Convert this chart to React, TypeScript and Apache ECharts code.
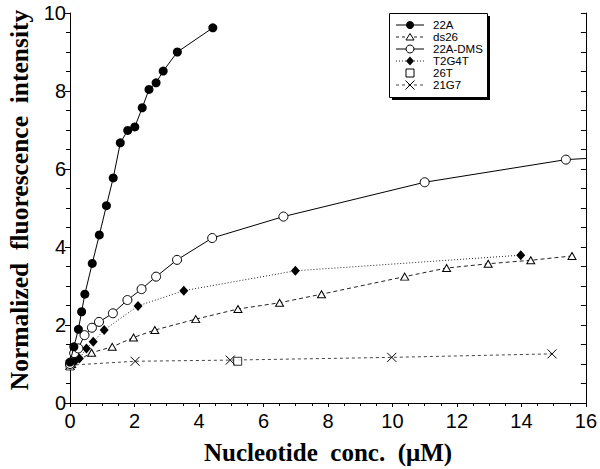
import React, { useEffect, useRef } from "react";
import * as echarts from "echarts";

const xTicks = [0, 2, 4, 6, 8, 10, 12, 14, 16];
const yTicks = [0, 2, 4, 6, 8, 10];

const s22A: number[][] = [
  [0.0, 1.05], [0.12, 1.44], [0.26, 1.89], [0.36, 2.34], [0.46, 2.79], [0.69, 3.58],
  [0.91, 4.31], [1.13, 5.06], [1.34, 5.77], [1.56, 6.67], [1.79, 6.99], [2.01, 7.08],
  [2.24, 7.57], [2.45, 8.04], [2.67, 8.21], [2.89, 8.51], [3.33, 9.0], [4.43, 9.62],
];
const sds26: number[][] = [
  [0.05, 1.0], [0.67, 1.29], [1.31, 1.44], [1.97, 1.68], [2.63, 1.87], [3.9, 2.15],
  [5.21, 2.41], [6.5, 2.57], [7.8, 2.79], [10.38, 3.24], [11.68, 3.46], [12.97, 3.57],
  [14.29, 3.66], [15.57, 3.77],
];
const s22ADMS: number[][] = [
  [0.0, 1.0], [0.13, 1.28], [0.26, 1.4], [0.45, 1.74], [0.68, 1.93], [0.9, 2.08],
  [1.33, 2.3], [1.78, 2.64], [2.22, 2.92], [2.67, 3.24], [3.32, 3.67], [4.41, 4.23],
  [6.62, 4.78], [11.0, 5.66], [15.38, 6.24],
];
const s22ADMSTail: number[] = [16, 6.27];
const sT2G4T: number[][] = [
  [0.0, 1.0], [0.15, 1.07], [0.29, 1.14], [0.51, 1.4], [0.72, 1.57], [1.06, 1.87],
  [2.11, 2.49], [3.53, 2.88], [6.99, 3.39], [13.98, 3.79],
];
const s26T: number[][] = [[0.0, 0.95], [5.2, 1.07]];
const s21G7: number[][] = [[0.0, 0.97], [2.02, 1.07], [4.97, 1.1], [9.98, 1.17], [14.95, 1.26]];

const seriesNames = ["22A", "ds26", "22A-DMS", "T2G4T", "26T", "21G7"];

const CROSS = "path://M0,0L10,10M10,0L0,10";

type Sty = { dash: number[] | null; lineColor: string; showLine: boolean };
const legendStyles: Sty[] = [
  { dash: null, lineColor: "#000", showLine: true },
  { dash: [3, 3], lineColor: "#222", showLine: true },
  { dash: null, lineColor: "#000", showLine: true },
  { dash: [1, 2], lineColor: "#222", showLine: true },
  { dash: null, lineColor: "#000", showLine: false },
  { dash: [3, 3], lineColor: "#444", showLine: true },
];

function legendSymbol(i: number, cx: number, cy: number): any {
  const st = { fill: "#fff", stroke: "#000", lineWidth: 1 };
  switch (i) {
    case 0:
      return { type: "circle", z: 12, shape: { cx, cy, r: 4 }, style: { fill: "#000" } };
    case 1:
      return { type: "polygon", z: 12, shape: { points: [[cx, cy - 3.5], [cx + 4, cy + 3], [cx - 4, cy + 3]] }, style: st };
    case 2:
      return { type: "circle", z: 12, shape: { cx, cy, r: 4 }, style: st };
    case 3:
      return { type: "polygon", z: 12, shape: { points: [[cx, cy - 4.5], [cx + 4, cy], [cx, cy + 4.5], [cx - 4, cy]] }, style: { fill: "#000" } };
    case 4:
      return { type: "rect", z: 12, shape: { x: cx - 4, y: cy - 4, width: 8, height: 8 }, style: st };
    default:
      return {
        type: "group",
        z: 12,
        children: [
          { type: "line", z: 12, shape: { x1: cx - 4.5, y1: cy - 4.5, x2: cx + 4.5, y2: cy + 4.5 }, style: { stroke: "#000", lineWidth: 1 } },
          { type: "line", z: 12, shape: { x1: cx + 4.5, y1: cy - 4.5, x2: cx - 4.5, y2: cy + 4.5 }, style: { stroke: "#000", lineWidth: 1 } },
        ],
      };
  }
}

export default function App() {
  const ref = useRef<HTMLDivElement>(null);
  useEffect(() => {
    if (!ref.current) return;
    const chart = echarts.init(ref.current, undefined, { renderer: "svg" });
    const sans = "Liberation Sans, Arial, sans-serif";
    const serif = "Liberation Serif, Times New Roman, serif";
    const nb = "\u00a0";

    const legendEls: any[] = [
      { type: "rect", z: 10, shape: { x: 392, y: 16, width: 98, height: 84 }, style: { fill: "#000" } },
      { type: "rect", z: 11, shape: { x: 389.5, y: 13.5, width: 98, height: 84 }, style: { fill: "#fff", stroke: "#000", lineWidth: 1 } },
    ];
    seriesNames.forEach((name, i) => {
      const cy = 25 + i * 12;
      const s = legendStyles[i];
      if (s.showLine) {
        legendEls.push({
          type: "line",
          z: 12,
          shape: { x1: 396, y1: cy, x2: 424, y2: cy },
          style: { stroke: s.lineColor, lineWidth: 1, lineDash: s.dash || undefined },
        });
      }
      legendEls.push(legendSymbol(i, 410, cy));
      legendEls.push({
        type: "text",
        z: 12,
        x: 433,
        y: cy,
        style: {
          text: name,
          font: "11.5px " + sans,
          lineHeight: 11,
          fill: "#000",
          textVerticalAlign: "middle",
          textAlign: "left",
        },
      });
    });

    chart.setOption({
      animation: false,
      backgroundColor: "#fff",
      grid: { left: 70, right: 11, top: 13, bottom: 66, containLabel: false },
      xAxis: {
        type: "value",
        min: xTicks[0],
        max: xTicks[xTicks.length - 1],
        interval: 2,
        axisLine: { show: true, lineStyle: { color: "#000", width: 1 } },
        axisTick: { show: true, length: 4, lineStyle: { color: "#000" } },
        minorTick: { show: true, splitNumber: 4, length: 3, lineStyle: { color: "#000" } },
        splitLine: { show: false },
        axisLabel: { fontFamily: sans, fontSize: 20, color: "#000", margin: 8 },
      },
      yAxis: [
        {
          type: "value",
          min: yTicks[0],
          max: yTicks[yTicks.length - 1],
          interval: 2,
          axisLine: { show: true, lineStyle: { color: "#000", width: 1 } },
          axisTick: { show: true, length: 5, lineStyle: { color: "#000" } },
          minorTick: { show: true, splitNumber: 4, length: 4, lineStyle: { color: "#000" } },
          splitLine: { show: false },
          axisLabel: { fontFamily: sans, fontSize: 20, color: "#000", margin: 4 },
        },
        {
          type: "value",
          position: "right",
          min: 0,
          max: 10,
          interval: 0.5,
          axisLine: { show: true, onZero: false, lineStyle: { color: "#000", width: 1 } },
          axisTick: { show: true, inside: true, length: 5, lineStyle: { color: "#000" } },
          axisLabel: { show: false },
          splitLine: { show: false },
        },
      ],
      graphic: [
        ...legendEls,
        {
          type: "text",
          x: 328,
          y: 452,
          style: {
            text: "Nucleotide" + nb + nb + "conc." + nb + nb + "(\u03bcM)",
            font: "bold 25px " + serif,
            fill: "#000",
            textAlign: "center",
            textVerticalAlign: "middle",
          },
        },
        {
          type: "text",
          x: 19,
          y: 200,
          rotation: Math.PI / 2,
          style: {
            text: "Normalized" + nb + nb + "fluorescence" + nb + nb + "intensity",
            font: "bold 25.5px " + serif,
            fill: "#000",
            textAlign: "center",
            textVerticalAlign: "middle",
          },
        },
      ],
      series: [
        {
          name: "22A",
          type: "line",
          data: s22A,
          symbol: "circle",
          symbolSize: 9,
          itemStyle: { color: "#000" },
          lineStyle: { color: "#000", width: 1, type: "solid" },
          z: 6,
        },
        {
          name: "ds26",
          type: "line",
          data: sds26,
          symbol: "triangle",
          symbolSize: [8, 7],
          itemStyle: { color: "#fff", borderColor: "#000", borderWidth: 1 },
          lineStyle: { color: "#222", width: 1, type: [4, 3] },
          z: 3,
        },
        {
          name: "22A-DMS",
          type: "line",
          data: [
            ...s22ADMS,
            { value: s22ADMSTail, symbol: "none" },
          ],
          symbol: "circle",
          symbolSize: 9,
          itemStyle: { color: "#fff", borderColor: "#000", borderWidth: 1 },
          lineStyle: { color: "#000", width: 1, type: "solid" },
          z: 5,
        },
        {
          name: "T2G4T",
          type: "line",
          data: sT2G4T,
          symbol: "diamond",
          symbolSize: [9, 10],
          itemStyle: { color: "#000" },
          lineStyle: { color: "#222", width: 1, type: [1, 2] },
          z: 4,
        },
        {
          name: "26T",
          type: "scatter",
          data: s26T,
          symbol: "rect",
          symbolSize: 8,
          itemStyle: { color: "#fff", borderColor: "#000", borderWidth: 1 },
          z: 3,
        },
        {
          name: "21G7",
          type: "line",
          data: s21G7,
          symbol: CROSS,
          symbolSize: 9,
          itemStyle: { color: "#000", borderColor: "#000", borderWidth: 1 },
          lineStyle: { color: "#444", width: 1, type: [3, 3] },
          z: 3,
        },
      ],
    });
    return () => chart.dispose();
  }, []);
  return <div ref={ref} style={{ width: 600, height: 469, position: "absolute", left: 0, top: 0 }} />;
}
